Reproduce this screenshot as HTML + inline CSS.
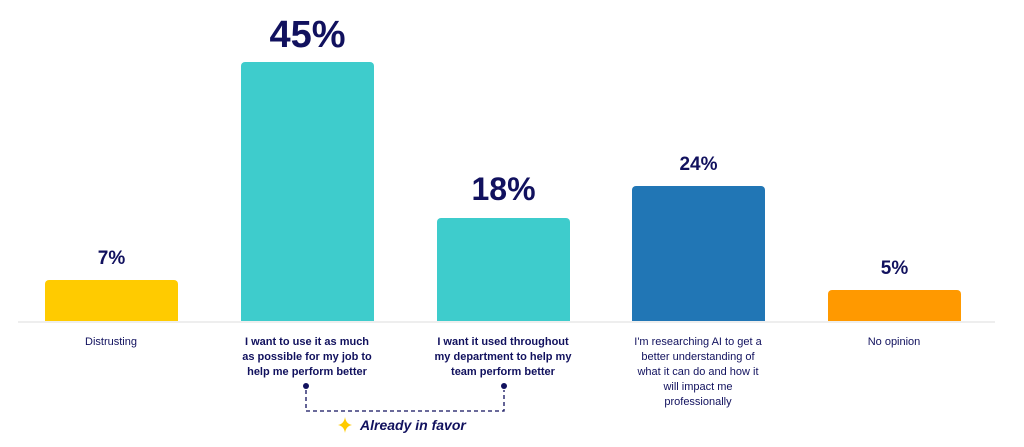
<!DOCTYPE html>
<html><head><style>
body{margin:0;width:1024px;height:447px;background:#fff;position:relative;overflow:hidden;font-family:"Liberation Sans",sans-serif;color:#11115e}
.bar{position:absolute;width:133px;border-radius:4px 4px 0 0}
.v{position:absolute;width:133px;text-align:center;font-weight:bold}
.c{position:absolute;width:180px;text-align:center;font-size:11px;line-height:15px}
</style></head><body>
<div style="position:absolute;left:18px;top:321px;width:977px;height:2px;background:#eeeeee"></div>
<div class="bar" style="left:45px;top:280px;height:41px;background:#ffcb00"></div>
<div class="bar" style="left:241px;top:62px;height:259px;background:#3ecccc"></div>
<div class="bar" style="left:437px;top:218px;height:103px;background:#3ecccc"></div>
<div class="bar" style="left:632px;top:186px;height:135px;background:#2176b5"></div>
<div class="bar" style="left:828px;top:290px;height:31px;background:#ff9900"></div>
<div class="v" style="left:45px;top:248px;font-size:19px">7%</div>
<div class="v" style="left:241px;top:14px;font-size:38px">45%</div>
<div class="v" style="left:437px;top:171px;font-size:32px">18%</div>
<div class="v" style="left:632px;top:154px;font-size:19px">24%</div>
<div class="v" style="left:828px;top:258px;font-size:19px">5%</div>
<div class="c" style="left:21px;top:335px">Distrusting</div>
<div class="c" style="left:217px;top:335px;font-weight:bold">I want to use it as much<br>as possible for my job to<br>help me perform better</div>
<div class="c" style="left:413px;top:335px;font-weight:bold">I want it used throughout<br>my department to help my<br>team perform better</div>
<div class="c" style="left:608px;top:335px">I'm researching AI to get a<br>better understanding of<br>what it can do and how it<br>will impact me<br>professionally</div>
<div class="c" style="left:804px;top:335px">No opinion</div>
<svg style="position:absolute;left:0;top:0" width="1024" height="447">
<circle cx="306" cy="386" r="3" fill="#11115e"/><circle cx="504" cy="386" r="3" fill="#11115e"/>
<path d="M306 390 V411 H504 V390" fill="none" stroke="#11115e" stroke-width="1.3" stroke-dasharray="4 3"/>
<path d="M345 417 Q346 424 352 425 Q346 426 345 433 Q344 426 338 425 Q344 424 345 417Z" fill="#ffcb00"/>
<text x="360" y="430" font-family="Liberation Sans" font-size="14" font-weight="bold" font-style="italic" fill="#11115e">Already in favor</text>
</svg>
</body></html>
